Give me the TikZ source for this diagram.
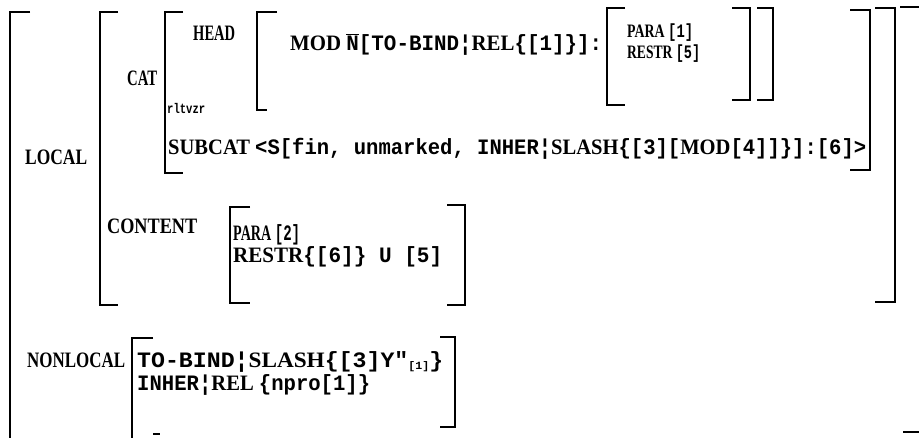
\documentclass[tikz,border=0pt]{standalone}
\usepackage{fontspec}
\usepackage{graphicx}
\setmainfont{Liberation Serif}
\newfontfamily\labfont{Liberation Serif}
\newfontfamily\monfont{Liberation Mono}
\newcommand\fitw[2]{\resizebox{#1pt}{\height}{#2}}
\newcommand\lb[1]{{\labfont\bfseries #1}}
\newcommand\mn[1]{{\monfont\bfseries #1}}
\newcommand\lbrk[4]{\draw[brk] ({#1+#4},#2) -- (#1,#2) -- (#1,#3) -- ({#1+#4},#3);}
\newcommand\rbrk[4]{\draw[brk] ({#1-#4},#2) -- (#1,#2) -- (#1,#3) -- ({#1-#4},#3);}
\tikzset{
  txt/.style={anchor=base west, inner sep=0pt, font=\fontsize{22}{22}\selectfont},
  txts/.style={anchor=base west, inner sep=0pt, font=\fontsize{19}{19}\selectfont},
  small/.style={anchor=base west, inner sep=0pt, font=\fontsize{14}{14}\selectfont},
  brk/.style={line width=2.5pt, line join=miter}
}
\begin{document}
\begin{tikzpicture}[x=1pt, y=-1pt]
\useasboundingbox (0,0) rectangle (919,437);
% text
\node[txt] (head) at (193,40.5) {\fitw{42}{\lb{HEAD}}};
\node[txt] (mod) at (290,50.5) {\fitw{312}{\lb{MOD} \mn{$\overline{\hbox{\monfont\bfseries N}}$[TO-BIND¦}\lb{REL}\mn{\{[1]\}]:}}};
\node[txts] (para1) at (627,37) {\fitw{66}{\lb{PARA} \mn{[1]}}};
\node[txts] (restr5) at (627,58) {\fitw{73}{\lb{RESTR} \mn{[5]}}};
\node[txt] (cat) at (127,85.5) {\fitw{30}{\lb{CAT}}};
\node[small] (rltvzr) at (167,113) {\fitw{38}{\mn{rltvzr}}};
\node[txt] (subcat) at (168,154.5) {\fitw{698}{\lb{SUBCAT} \mn{<S[fin, unmarked, INHER¦}\lb{SLASH}\mn{\{[3][}\lb{MOD}\mn{[4]]\}]:[6]>}}};
\node[txt] (local) at (25,164.5) {\fitw{62}{\lb{LOCAL}}};
\node[txt] (content) at (107,233.5) {\fitw{90}{\lb{CONTENT}}};
\node[txt] (para2) at (233,240.5) {\fitw{67}{\lb{PARA} \mn{[2]}}};
\node[txt] (restr6) at (233,262.5) {\fitw{209}{\lb{RESTR}\mn{\{[6]\} U [5]}}};
\node[txt] (nonlocal) at (27,367.5) {\fitw{98}{\lb{NONLOCAL}}};
\node[txt] (tobind) at (137,367.5) {\fitw{306}{\mn{TO-BIND¦}\lb{SLASH}\mn{\{[3]Y"}\raisebox{-2pt}{\mn{\fontsize{11}{11}\selectfont[1]}}\mn{\}}}};
\node[txt] (inher) at (137,390.5) {\fitw{233}{\mn{INHER¦}\lb{REL} \mn{\{npro[1]\}}}};
% brackets
\draw[brk] (30,12) -- (10,12) -- (10,440);
\lbrk{100}{12}{305}{18}
\rbrk{895}{8}{302}{20}
\lbrk{165}{12}{173}{18}
\rbrk{870}{10}{170}{20}
\draw[brk] (277,12) -- (257,12) -- (257,110) -- (267,110);
\lbrk{607}{8}{105}{18}
\rbrk{750}{8}{100}{18}
\rbrk{773}{8}{100}{16}
\lbrk{230}{207}{303}{20}
\rbrk{465}{205}{305}{18}
\draw[brk] (153,338) -- (132,338) -- (132,440);
\draw[line width=1.5pt] (153,434) -- (160,434);
\rbrk{455}{337}{427}{15}
\draw[brk] (900,7) -- (919,7);
\draw[brk] (903,432) -- (919,432);
\end{tikzpicture}
\end{document}
